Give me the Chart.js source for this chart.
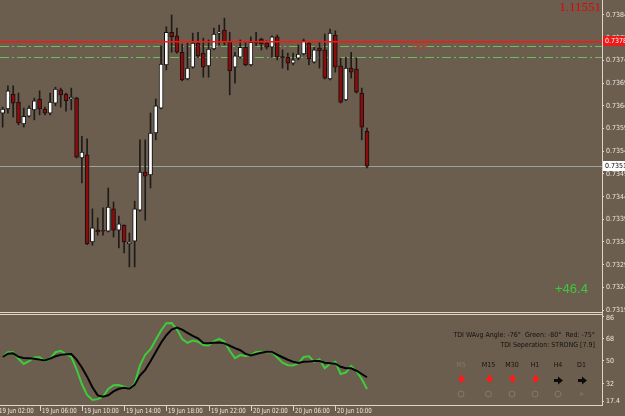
<!DOCTYPE html>
<html>
<head>
<meta charset="utf-8">
<script src="https://cdn.jsdelivr.net/npm/chart.js@4.4.1/dist/chart.umd.min.js"></script>
<style>
  html, body { margin: 0; padding: 0; background: #6c5e4f; overflow: hidden; }
  #wrap { position: relative; width: 625px; height: 416px; }
  canvas { position: absolute; left: 0; }
  #price { top: 0; }
  #tdi { top: 300px; }
</style>
</head>
<body>
<div id="wrap">
  <canvas id="price" width="625" height="313"></canvas>
  <canvas id="tdi" width="625" height="116"></canvas>
</div>
<script>
// M30 candles, 19 Jun 02:30 .. 20 Jun 13:00
const opens = [0.73629, 0.73638, 0.73671, 0.73653, 0.73605, 0.73622, 0.73636, 0.73660, 0.73638, 0.73629,
  0.73651, 0.73680, 0.73671, 0.73660, 0.73662, 0.73530, 0.73537, 0.73345, 0.73371, 0.73371,
  0.73369, 0.73418, 0.73371, 0.73382, 0.73341, 0.73347, 0.73415, 0.73499, 0.73493, 0.73585,
  0.73640, 0.73735, 0.73807, 0.73799, 0.73763, 0.73704, 0.73730, 0.73783, 0.73761, 0.73733,
  0.73770, 0.73805, 0.73812, 0.73785, 0.73730, 0.73752, 0.73774, 0.73735, 0.73785, 0.73792,
  0.73783, 0.73774, 0.73797, 0.73752, 0.73752, 0.73739, 0.73750, 0.73759, 0.73783, 0.73741,
  0.73772, 0.73768, 0.73704, 0.73801, 0.73733, 0.73658, 0.73728, 0.73726, 0.73673, 0.73589];
const highs = [0.73642, 0.73689, 0.73689, 0.73673, 0.73640, 0.73645, 0.73662, 0.73678, 0.73642, 0.73673,
  0.73686, 0.73684, 0.73673, 0.73684, 0.73664, 0.73578, 0.73572, 0.73418, 0.73398, 0.73420,
  0.73464, 0.73433, 0.73402, 0.73383, 0.73365, 0.73435, 0.73570, 0.73570, 0.73629, 0.73660,
  0.73777, 0.73819, 0.73845, 0.73816, 0.73781, 0.73783, 0.73805, 0.73807, 0.73794, 0.73790,
  0.73816, 0.73823, 0.73838, 0.73807, 0.73763, 0.73790, 0.73785, 0.73797, 0.73807, 0.73794,
  0.73788, 0.73799, 0.73801, 0.73768, 0.73761, 0.73761, 0.73779, 0.73792, 0.73785, 0.73774,
  0.73785, 0.73803, 0.73814, 0.73810, 0.73750, 0.73752, 0.73763, 0.73750, 0.73684, 0.73596];
const lows = [0.73598, 0.73629, 0.73620, 0.73603, 0.73598, 0.73620, 0.73614, 0.73625, 0.73625, 0.73625,
  0.73645, 0.73642, 0.73633, 0.73636, 0.73530, 0.73475, 0.73339, 0.73338, 0.73360, 0.73360,
  0.73367, 0.73356, 0.73332, 0.73321, 0.73290, 0.73290, 0.73413, 0.73393, 0.73464, 0.73570,
  0.73638, 0.73724, 0.73763, 0.73761, 0.73700, 0.73702, 0.73728, 0.73752, 0.73708, 0.73708,
  0.73768, 0.73779, 0.73779, 0.73669, 0.73695, 0.73750, 0.73733, 0.73733, 0.73777, 0.73768,
  0.73770, 0.73752, 0.73746, 0.73728, 0.73724, 0.73735, 0.73746, 0.73757, 0.73735, 0.73739,
  0.73728, 0.73704, 0.73702, 0.73719, 0.73651, 0.73656, 0.73706, 0.73673, 0.73570, 0.73508];
const closes = [0.73638, 0.73678, 0.73651, 0.73607, 0.73622, 0.73640, 0.73656, 0.73638, 0.73629, 0.73653,
  0.73682, 0.73669, 0.73656, 0.73664, 0.73532, 0.73543, 0.73341, 0.73376, 0.73367, 0.73369,
  0.73422, 0.73371, 0.73385, 0.73345, 0.73345, 0.73418, 0.73499, 0.73490, 0.73585, 0.73645,
  0.73737, 0.73807, 0.73797, 0.73763, 0.73702, 0.73728, 0.73783, 0.73755, 0.73730, 0.73770,
  0.73803, 0.73807, 0.73785, 0.73722, 0.73755, 0.73774, 0.73735, 0.73785, 0.73783, 0.73781,
  0.73774, 0.73797, 0.73752, 0.73751, 0.73739, 0.73746, 0.73759, 0.73788, 0.73748, 0.73768,
  0.73766, 0.73706, 0.73805, 0.73730, 0.73653, 0.73728, 0.73719, 0.73675, 0.73598, 0.73512];

// TDI sub-window
const tdiGreen = [53.2, 57.0, 57.0, 51.8, 47.6, 49.8, 52.8, 53.0, 50.0, 51.9,
  57.0, 58.2, 55.4, 53.4, 43.4, 31.6, 22.8, 18.8, 19.5, 21.4,
  27.6, 30.6, 30.8, 29.5, 27.8, 31.8, 46.5, 55.0, 59.4, 67.0,
  74.4, 80.2, 80.4, 75.4, 67.5, 64.6, 66.4, 65.4, 62.8, 62.4,
  65.8, 67.7, 65.6, 58.2, 52.3, 54.7, 54.0, 54.8, 57.3, 57.4,
  57.0, 57.2, 52.8, 48.6, 46.6, 46.4, 48.0, 53.2, 53.7, 49.4,
  51.3, 44.2, 47.8, 49.4, 39.6, 40.8, 46.0, 41.9, 35.6, 27.6];
const tdiBlack = [53.2, 55.8, 56.1, 53.4, 52.3, 52.2, 51.8, 51.1, 50.4, 51.9,
  53.8, 54.9, 55.4, 55.5, 51.1, 44.8, 37.5, 29.0, 22.5, 21.4,
  22.6, 25.7, 27.8, 28.5, 27.8, 30.9, 38.3, 42.9, 49.8, 57.2,
  64.6, 70.6, 75.1, 76.8, 75.1, 72.4, 70.1, 68.2, 64.4, 64.2,
  64.6, 64.8, 64.1, 62.2, 60.3, 58.6, 55.7, 54.5, 55.6, 56.6,
  57.4, 57.3, 55.0, 53.0, 51.0, 49.4, 48.4, 49.4, 49.5, 50.0,
  50.0, 48.6, 48.2, 47.8, 45.4, 44.2, 44.2, 42.2, 39.6, 37.0];

const priceTicks = [0.73845, 0.73795, 0.73745, 0.73695, 0.73645, 0.73595, 0.73545, 0.73495,
  0.73445, 0.73395, 0.73345, 0.73295, 0.73245, 0.73195];
const tdiTicks = [86, 68, 50, 32, 17.4];
const timeLabels = ["19 Jun 02:00", "19 Jun 06:00", "19 Jun 10:00", "19 Jun 14:00", "19 Jun 18:00",
  "19 Jun 22:00", "20 Jun 02:00", "20 Jun 06:00", "20 Jun 10:00"];
const timeLabelBars = [-1, 7, 15, 23, 31, 39, 47, 55, 63];

const redLevel = 0.73788;
const fiboLevels = [0.73777, 0.73752];
const askPrice = 0.73512;
const slotCount = 114; // bars + empty space on the right (chart shift)

const NARROW = '"Liberation Sans Narrow", "DejaVu Sans Condensed", sans-serif';
const AXIS_TXT = '#ece6dc';
const AXIS_LINE = '#ddd6c8';

const slots = Array.from({ length: slotCount }, (_, i) => i);
const bodies = opens.map((o, i) => [o, closes[i]]);
const wicks = lows.map((l, i) => [l, highs[i]]);
const bodyColors = opens.map((o, i) => closes[i] >= o ? '#ffffff' : '#8c0b0b');

function hline(ctx, a, py, color, dash) {
  const y = Math.round(py) + 0.5;
  ctx.strokeStyle = color;
  ctx.lineWidth = 1;
  ctx.setLineDash(dash || []);
  ctx.beginPath();
  ctx.moveTo(a.left, y);
  ctx.lineTo(a.right, y);
  ctx.stroke();
  ctx.setLineDash([]);
}

// squeezed text, MT4's small fonts are narrower than ours
function sqText(ctx, text, x, y, sx) {
  ctx.save();
  ctx.translate(x, y);
  ctx.scale(sx, 1);
  ctx.fillText(text, 0, 0);
  ctx.restore();
}

function axisBox(ctx, a, py, bg, fg, text) {
  ctx.fillStyle = bg;
  ctx.fillRect(a.right + 1, Math.round(py) - 5, 30, 10);
  ctx.fillStyle = fg;
  ctx.font = '7px ' + NARROW;
  ctx.textAlign = 'left';
  ctx.textBaseline = 'middle';
  ctx.fillText(text, a.right + 3, Math.round(py) + 0.5);
}

const pricePlugin = {
  id: 'mt4Price',
  beforeDatasetsDraw(chart) {
    const { ctx, chartArea: a, scales: { y } } = chart;
    ctx.save();
    hline(ctx, a, y.getPixelForValue(askPrice), '#9ea2a0');
    fiboLevels.forEach(v => hline(ctx, a, y.getPixelForValue(v), '#6fbe5c', [9, 3, 2, 3]));
    ctx.restore();
  },
  afterDraw(chart) {
    const { ctx, chartArea: a, scales: { y } } = chart;
    ctx.save();
    // red price level
    const ry = Math.round(y.getPixelForValue(redLevel));
    ctx.fillStyle = '#ff1414';
    ctx.fillRect(a.left, ry, a.right - a.left, 1.5);

    // price labels
    ctx.font = '7px ' + NARROW;
    ctx.fillStyle = AXIS_TXT;
    ctx.textAlign = 'left';
    ctx.textBaseline = 'middle';
    priceTicks.forEach(v => ctx.fillText(v.toFixed(5), a.right + 4, Math.round(y.getPixelForValue(v)) + 0.5));
    axisBox(ctx, a, y.getPixelForValue(redLevel), '#f01818', '#ffffff', redLevel.toFixed(5));
    axisBox(ctx, a, y.getPixelForValue(askPrice), '#ffffff', '#000000', askPrice.toFixed(5));

    // fibo tag
    ctx.fillStyle = '#cc3a2a';
    ctx.font = '7px ' + NARROW;
    ctx.fillText('FE38', 412, y.getPixelForValue(fiboLevels[0]) + 1);

    // corner texts
    ctx.fillStyle = '#e80000';
    ctx.font = '13px "Liberation Serif", serif';
    ctx.textAlign = 'right';
    ctx.fillText('1.11551', a.right - 1, 8);
    ctx.fillStyle = '#3cc83c';
    ctx.font = '13px "Liberation Sans", sans-serif';
    ctx.textAlign = 'left';
    ctx.fillText('+46.4', 555, 289);
    ctx.restore();
  }
};

new Chart(document.getElementById('price'), {
  type: 'bar',
  data: {
    labels: slots,
    datasets: [
      { data: wicks, backgroundColor: '#1e1b19', barThickness: 1, grouped: false, order: 2 },
      {
        data: bodies, backgroundColor: bodyColors, borderColor: '#111111', borderWidth: 1,
        borderSkipped: false, barThickness: 4, grouped: false, minBarLength: 1, order: 1
      }
    ]
  },
  options: {
    responsive: false,
    animation: false,
    layout: { padding: 0 },
    plugins: { legend: { display: false }, tooltip: { enabled: false } },
    scales: {
      x: { display: false, offset: true },
      y: {
        position: 'right',
        min: 0.731886,
        max: 0.73878,
        ticks: { display: false },
        grid: { drawOnChartArea: false, tickLength: 2, color: AXIS_LINE },
        border: { color: AXIS_LINE },
        afterFit: s => { s.width = 23; },
        afterBuildTicks: s => { s.ticks = priceTicks.map(v => ({ value: v })); }
      }
    }
  },
  plugins: [pricePlugin]
});

function downArrow(ctx, cx, top) {
  ctx.fillRect(cx - 1, top, 3, 4);
  ctx.beginPath();
  ctx.moveTo(cx - 3.5, top + 3);
  ctx.lineTo(cx + 4.5, top + 3);
  ctx.lineTo(cx + 0.5, top + 8);
  ctx.closePath();
  ctx.fill();
}

function rightArrow(ctx, left, cy) {
  ctx.fillRect(left, cy - 1, 5, 3);
  ctx.beginPath();
  ctx.moveTo(left + 4, cy - 3.5);
  ctx.lineTo(left + 4, cy + 4.5);
  ctx.lineTo(left + 9, cy + 0.5);
  ctx.closePath();
  ctx.fill();
}

const tdiPlugin = {
  id: 'mt4Tdi',
  afterDraw(chart) {
    const { ctx, chartArea: a, scales: { x, y } } = chart;
    const off = 300; // canvas top on the page
    ctx.save();
    // window separator and frame
    ctx.strokeStyle = AXIS_LINE;
    ctx.lineWidth = 1;
    ctx.beginPath();
    ctx.moveTo(0, 312.5 - off); ctx.lineTo(a.right, 312.5 - off);
    ctx.moveTo(0, 314.5 - off); ctx.lineTo(a.right, 314.5 - off);
    ctx.moveTo(0, a.bottom + 0.5); ctx.lineTo(a.right + 0.5, a.bottom + 0.5);
    ctx.moveTo(a.right + 0.5, 0); ctx.lineTo(a.right + 0.5, a.bottom + 0.5);
    ctx.stroke();

    // value labels
    ctx.font = '7px ' + NARROW;
    ctx.fillStyle = AXIS_TXT;
    ctx.textAlign = 'left';
    ctx.textBaseline = 'middle';
    tdiTicks.forEach((v, i) => {
      let py = Math.round(y.getPixelForValue(v)) + 0.5;
      if (i === 0) py += 2;
      if (i === tdiTicks.length - 1) py -= 1;
      ctx.fillText(String(v), a.right + 4, py);
    });

    // time labels
    ctx.textBaseline = 'top';
    timeLabels.forEach((t, i) => {
      const px = Math.round(x.getPixelForValue(timeLabelBars[i])) + 0.5;
      ctx.beginPath();
      ctx.moveTo(px, a.bottom + 1);
      ctx.lineTo(px, a.bottom + 6);
      ctx.stroke();
      sqText(ctx, t, px + 1.5, a.bottom + 2.5, 0.87);
    });

    // TDI info text
    ctx.fillStyle = '#141210';
    ctx.font = '7px ' + NARROW;
    ctx.textAlign = 'right';
    ctx.textBaseline = 'middle';
    ctx.fillText('TDI WAvg Angle: -76°  Green: -80°  Red: -75°', 595, 335 - off);
    ctx.fillText('TDI Seperation: STRONG [7.9]', 595, 345 - off);

    const tfs = ['M5', 'M15', 'M30', 'H1', 'H4', 'D1'];
    const tfX = [461, 488.5, 512, 535, 558, 581.5];
    ctx.textAlign = 'center';
    tfs.forEach((t, i) => {
      ctx.fillStyle = i === 0 ? '#85786a' : '#141210';
      ctx.fillText(t, tfX[i], 365 - off);
      if (i < 4) {
        ctx.fillStyle = '#ff1a1a';
        downArrow(ctx, Math.round(tfX[i]), 375 - off);
      } else {
        ctx.fillStyle = '#0c0c0c';
        rightArrow(ctx, Math.round(tfX[i]) - 4, 380 - off);
      }
      ctx.strokeStyle = '#85786a';
      ctx.beginPath();
      ctx.arc(tfX[i], 394 - off, i === 5 ? 1.2 : 3, 0, Math.PI * 2);
      ctx.stroke();
    });
    ctx.restore();
  }
};

new Chart(document.getElementById('tdi'), {
  type: 'line',
  data: {
    labels: slots,
    datasets: [
      { data: tdiBlack, borderColor: '#050505', borderWidth: 2, pointRadius: 0, tension: 0 },
      { data: tdiGreen, borderColor: '#3dcc3a', borderWidth: 2, pointRadius: 0, tension: 0 }
    ]
  },
  options: {
    responsive: false,
    animation: false,
    layout: { padding: { top: 16, bottom: 11, left: 0, right: 0 } },
    plugins: { legend: { display: false }, tooltip: { enabled: false } },
    scales: {
      x: { display: false, offset: true },
      y: {
        position: 'right',
        min: 14.8,
        max: 86,
        ticks: { display: false },
        grid: { drawOnChartArea: false, tickLength: 2, color: AXIS_LINE },
        border: { color: AXIS_LINE },
        afterFit: s => { s.width = 23; },
        afterBuildTicks: s => { s.ticks = tdiTicks.map(v => ({ value: v })); }
      }
    }
  },
  plugins: [tdiPlugin]
});
</script>
</body>
</html>
